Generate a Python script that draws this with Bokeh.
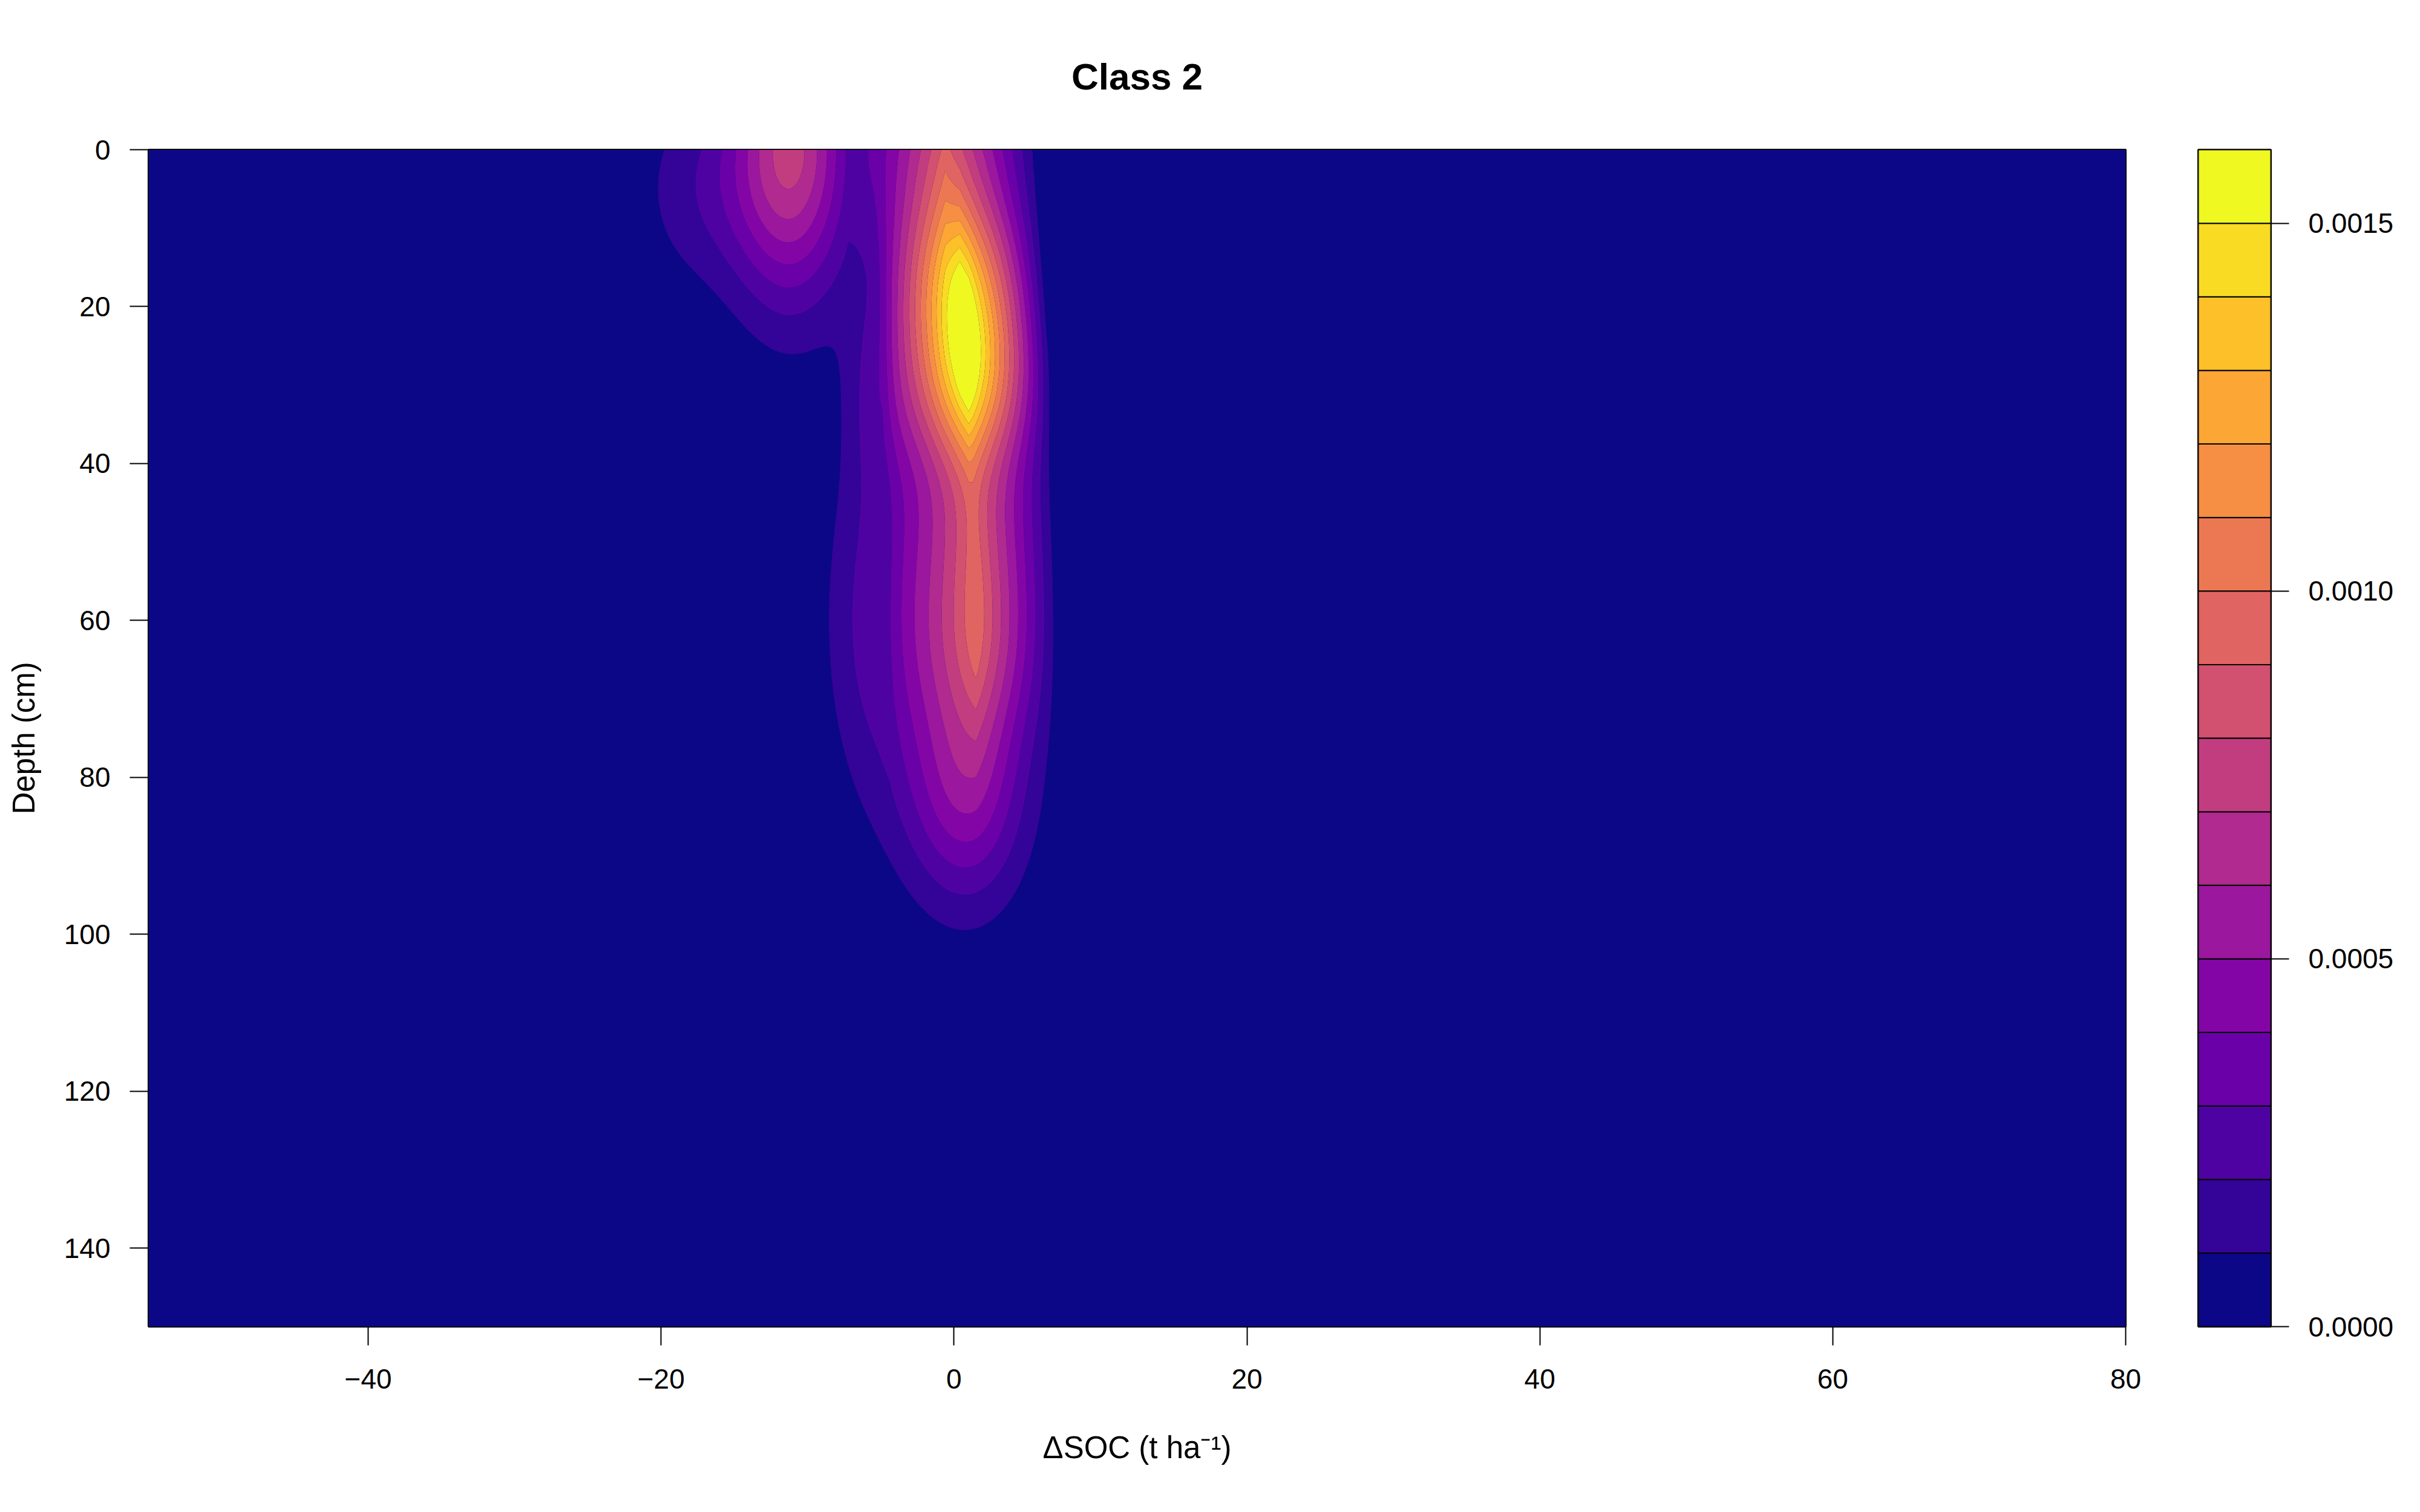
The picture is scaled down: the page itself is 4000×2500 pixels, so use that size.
import numpy as np
from bokeh.embed import file_html
from bokeh.layouts import row
from bokeh.models import FixedTicker, PrintfTickFormatter
from bokeh.palettes import Plasma256
from bokeh.plotting import figure
from bokeh.resources import INLINE

# Density levels (16 bands from 0 to 0.0016) and their plasma colours
levels = [0.0000, 0.0001, 0.0002, 0.0003, 0.0004, 0.0005, 0.0006, 0.0007, 0.0008,
          0.0009, 0.0010, 0.0011, 0.0012, 0.0013, 0.0014, 0.0015, 0.0016]
band_colors = [Plasma256[round(i * 255 / 15)] for i in range(16)]

# Density surface.
# Main ridge near ΔSOC = 0: bumps that fall off linearly across ΔSOC
ridge_soc = [-0.6, 0.4, 1.0, 1.3, 1.5]
ridge_depth = [0, 17, 30, 47, 62]
ridge_halfwidth = [6.6, 5.9, 5.9, 5.9, 5.9]
ridge_depth_sd = [12, 8, 8.5, 8, 10]
ridge_peak = [0.00085, 0.00098, 0.00135, 0.00050, 0.00083]

# Rounded lobes: surface lobe at -11, its tail, left shoulder, bottom of the ridge
lobe_soc = [-11.1, -17.0, -5.0, -4.8, 0.8]
lobe_depth = [0, 5, 30, 60, 82]
lobe_soc_sd = [2.8, 3.2, 1.6, 2.6, 2.8]
lobe_depth_sd = [13, 9, 10, 16, 10]
lobe_peak = [0.00072, 0.00016, 0.00022, 0.00028, 0.00045]

x_ticks = [-40, -20, 0, 20, 40, 60, 80]
y_ticks = [0, 20, 40, 60, 80, 100, 120, 140]
bar_ticks = [0.0, 0.0005, 0.0010, 0.0015]

FONT = "Liberation Sans"

# evaluate the surface on a grid
soc = np.linspace(-55, 80, 1351)
depth = np.linspace(0, 150, 601)
X, Y = np.meshgrid(soc, depth)
z = np.zeros_like(X)
for cx, cy, hw, sy, pk in zip(ridge_soc, ridge_depth, ridge_halfwidth, ridge_depth_sd, ridge_peak):
    z += pk * np.clip(1 - np.abs(X - cx) / hw, 0, None) * np.exp(-((Y - cy) ** 2) / (2 * sy**2))
for cx, cy, sx, sy, pk in zip(lobe_soc, lobe_depth, lobe_soc_sd, lobe_depth_sd, lobe_peak):
    z += pk * np.exp(-((X - cx) ** 2) / (2 * sx**2) - ((Y - cy) ** 2) / (2 * sy**2))
z = np.minimum(z, levels[-1] - 1e-7)

# main panel
p = figure(
    frame_width=3268,
    frame_height=1946,
    x_range=(-55, 80),
    y_range=(150, 0),
    min_border_left=245,
    min_border_right=60,
    min_border_top=247,
    min_border_bottom=282,
    toolbar_location=None,
    output_backend="svg",
    x_axis_label="ΔSOC (t ha⁻¹)",
    y_axis_label="Depth (cm)",
)
p.contour(soc, depth, z, levels=levels, fill_color=band_colors, line_color=None)

p.background_fill_color = band_colors[0]
p.outline_line_color = "black"
p.outline_line_width = 3
p.grid.visible = False

p.title.text = "Class 2"
p.title.align = "center"
p.title.standoff = 174
p.title.text_font = FONT
p.title.text_font_size = "62px"
p.title.text_font_style = "bold"
p.title.text_color = "black"

p.xaxis.ticker = FixedTicker(ticks=x_ticks)
p.yaxis.ticker = FixedTicker(ticks=y_ticks)
for ax in (p.xaxis[0], p.yaxis[0]):
    ax.axis_line_color = None
    ax.major_tick_out = 31
    ax.major_tick_in = 0
    ax.minor_tick_out = 0
    ax.minor_tick_in = 0
    ax.major_tick_line_width = 2
    ax.major_tick_line_color = "black"
    ax.major_label_text_font = FONT
    ax.major_label_text_font_size = "46px"
    ax.major_label_text_color = "black"
    ax.major_label_standoff = 32
    ax.axis_label_text_font = FONT
    ax.axis_label_text_font_size = "51px"
    ax.axis_label_text_font_style = "normal"
    ax.axis_label_text_color = "black"
p.xaxis.major_label_standoff = 39
p.xaxis.axis_label_standoff = 66
p.yaxis.axis_label_standoff = 35

# colour key
key = figure(
    frame_width=120,
    frame_height=1946,
    x_range=(0, 1),
    y_range=(levels[0], levels[-1]),
    y_axis_location="right",
    min_border_left=60,
    min_border_right=210,
    min_border_top=247,
    min_border_bottom=282,
    toolbar_location=None,
    output_backend="svg",
)
key.quad(left=0, right=1, bottom=levels[:-1], top=levels[1:], fill_color=band_colors,
         line_color="black", line_width=2)
key.xaxis.visible = False
key.grid.visible = False
key.outline_line_color = "black"
key.outline_line_width = 3
ky = key.yaxis[0]
ky.ticker = FixedTicker(ticks=bar_ticks)
ky.formatter = PrintfTickFormatter(format="%.4f")
ky.axis_line_color = None
ky.major_tick_out = 30
ky.major_tick_in = 0
ky.minor_tick_out = 0
ky.minor_tick_in = 0
ky.major_tick_line_width = 2
ky.major_label_text_font = FONT
ky.major_label_text_font_size = "46px"
ky.major_label_text_color = "black"
ky.major_label_standoff = 32

layout = row(p, key)
open("out.html", "w").write(file_html(layout, INLINE))
